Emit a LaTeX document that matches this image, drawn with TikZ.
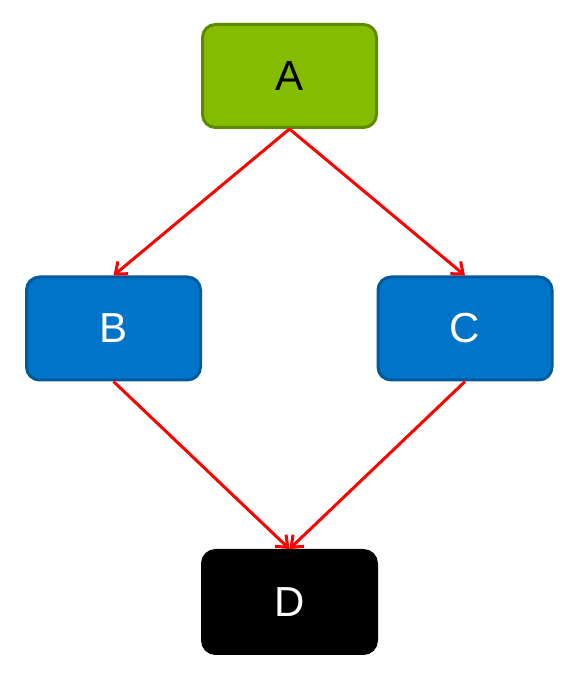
\documentclass[tikz,border=0pt]{standalone}
\usepackage{fontspec}
\setmainfont{Liberation Sans}
\usetikzlibrary{arrows.meta}
\definecolor{agreen}{HTML}{84BC00}
\definecolor{agreenb}{HTML}{5E8A00}
\definecolor{bblue}{HTML}{0074C8}
\definecolor{bblueb}{HTML}{005A9E}
\definecolor{ered}{HTML}{FF0000}
\tikzset{
  box/.style={rounded corners=13pt, line width=3pt, minimum width=174pt, minimum height=103pt, inner sep=0pt, font=\fontsize{42}{50}\selectfont},
  greenbox/.style={box, fill=agreen, draw=agreenb, text=black},
  bluebox/.style={box, fill=bblue, draw=bblueb, text=white},
  blackbox/.style={box, fill=black, draw=black, text=white},
  edge/.style={draw=ered, line width=3pt, -{Straight Barb[length=10pt,width=16pt,line width=3pt]}}
}
\begin{document}
\begin{tikzpicture}[x=1pt,y=1pt]
\useasboundingbox (0,0) rectangle (582,683);
\node[greenbox] (A) at (289.5,607) {A};
\node[bluebox] (B) at (113.5,354.5) {B};
\node[bluebox] (C) at (465,354.5) {C};
\node[blackbox] (D) at (289.5,81) {D};
\draw[edge] (A.south) -- (B.north);
\draw[edge] (A.south) -- (C.north);
\draw[edge] (B.south) -- (D.north);
\draw[edge] (C.south) -- (D.north);
\end{tikzpicture}
\end{document}
